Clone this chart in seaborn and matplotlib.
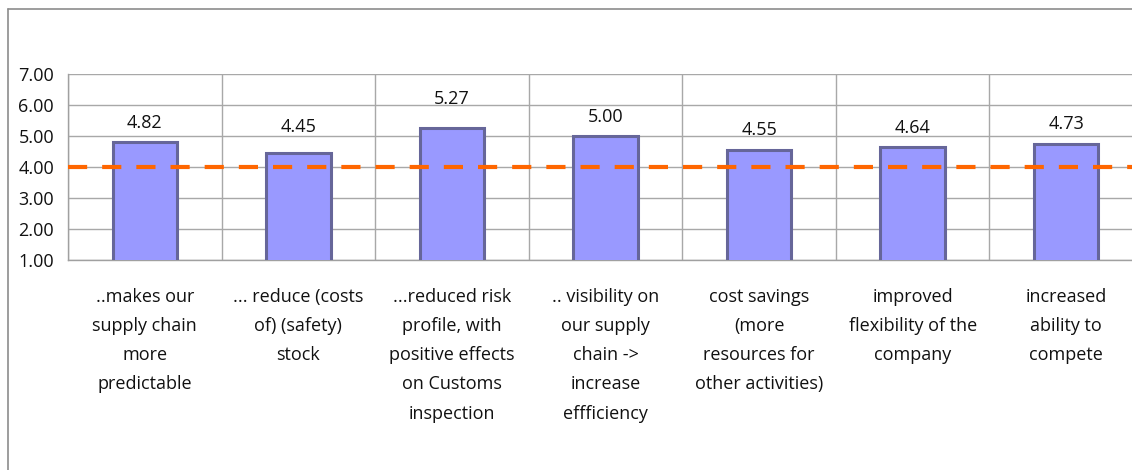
import matplotlib
matplotlib.use("Agg")
import matplotlib.pyplot as plt
from matplotlib.lines import Line2D
import numpy as np
import pandas as pd
import seaborn as sns

categories = [
    "..makes our\nsupply chain\nmore\npredictable",
    "... reduce (costs\nof) (safety)\nstock",
    "...reduced risk\nprofile, with\npositive effects\non Customs\ninspection",
    ".. visibility on\nour supply\nchain ->\nincrease\neffficiency",
    "cost savings\n(more\nresources for\nother activities)",
    "improved\nflexibility of the\ncompany",
    "increased\nability to\ncompete",
]
scores = [4.82, 4.45, 5.27, 5.00, 4.55, 4.64, 4.73]
reference_level = 4.00
y_ticks = [1.00, 2.00, 3.00, 4.00, 5.00, 6.00, 7.00]

# vertical lift of each value label above its bar, in points
label_lift = [7, 12, 14, 7, 8, 7, 8]

sns.set_theme(style="white")
plt.rcParams["font.family"] = ["Open Sans", "DejaVu Sans"]

df = pd.DataFrame({"item": categories, "score": scores})

fig = plt.figure(figsize=(11.32, 4.70), dpi=100)
# plot area runs slightly past the right edge of the canvas
ax = fig.add_axes([68 / 1132, 1 - 260 / 470, (1143 - 68) / 1132, (260 - 74) / 470])

sns.barplot(data=df, x="item", y="score", color="#9999FF", width=0.42,
            edgecolor="#666699", linewidth=2.2, saturation=1, ax=ax, zorder=3)

n = len(categories)
ax.set_xlim(-0.5, n - 0.5)
ax.set_ylim(y_ticks[0], y_ticks[-1])

# horizontal grid at each tick, extending left as tick marks
ax.set_yticks(y_ticks)
ax.set_yticklabels([f"{v:.2f}" for v in y_ticks], fontsize=13, color="#111111")
ax.tick_params(axis="y", direction="out", length=6, width=1, color="#a0a0a0", pad=4)
ax.grid(axis="y", color="#a8a8a8", linewidth=1, zorder=0)

# vertical separators between categories, extending below the axis
ax.set_xticks(np.arange(n + 1) - 0.5)
ax.set_xticklabels([])
ax.tick_params(axis="x", which="major", direction="out", length=6, width=1, color="#a0a0a0")
ax.grid(axis="x", which="major", color="#a8a8a8", linewidth=1, zorder=0)
ax.set_xticks(np.arange(n), minor=True)
ax.set_xticklabels(categories, minor=True, fontsize=13, color="#111111", linespacing=1.8)
ax.tick_params(axis="x", which="minor", length=0, pad=20)
ax.set_xlabel("")
ax.set_ylabel("")

for side in ["left", "bottom"]:
    ax.spines[side].set_color("#a0a0a0")
    ax.spines[side].set_linewidth(1)
for side in ["top", "right"]:
    ax.spines[side].set_visible(False)

# value labels
for i, (v, lift) in enumerate(zip(scores, label_lift)):
    ax.annotate(f"{v:.2f}", (i, v), xytext=(0, lift), textcoords="offset points",
                ha="center", va="bottom", fontsize=13, color="#111111", zorder=5)

# reference threshold
ax.axhline(reference_level, color="#FF6600", linewidth=3, dashes=(4.6, 3.6), zorder=4)

# outer chart frame
fig.add_artist(Line2D([8 / 1132, 8 / 1132], [0, 1 - 9 / 470], color="#8c8c8c",
                      linewidth=1.2, transform=fig.transFigure))
fig.add_artist(Line2D([8 / 1132, 1], [1 - 9 / 470, 1 - 9 / 470], color="#8c8c8c",
                      linewidth=1.2, transform=fig.transFigure))

fig.savefig("out.png", dpi=100)
